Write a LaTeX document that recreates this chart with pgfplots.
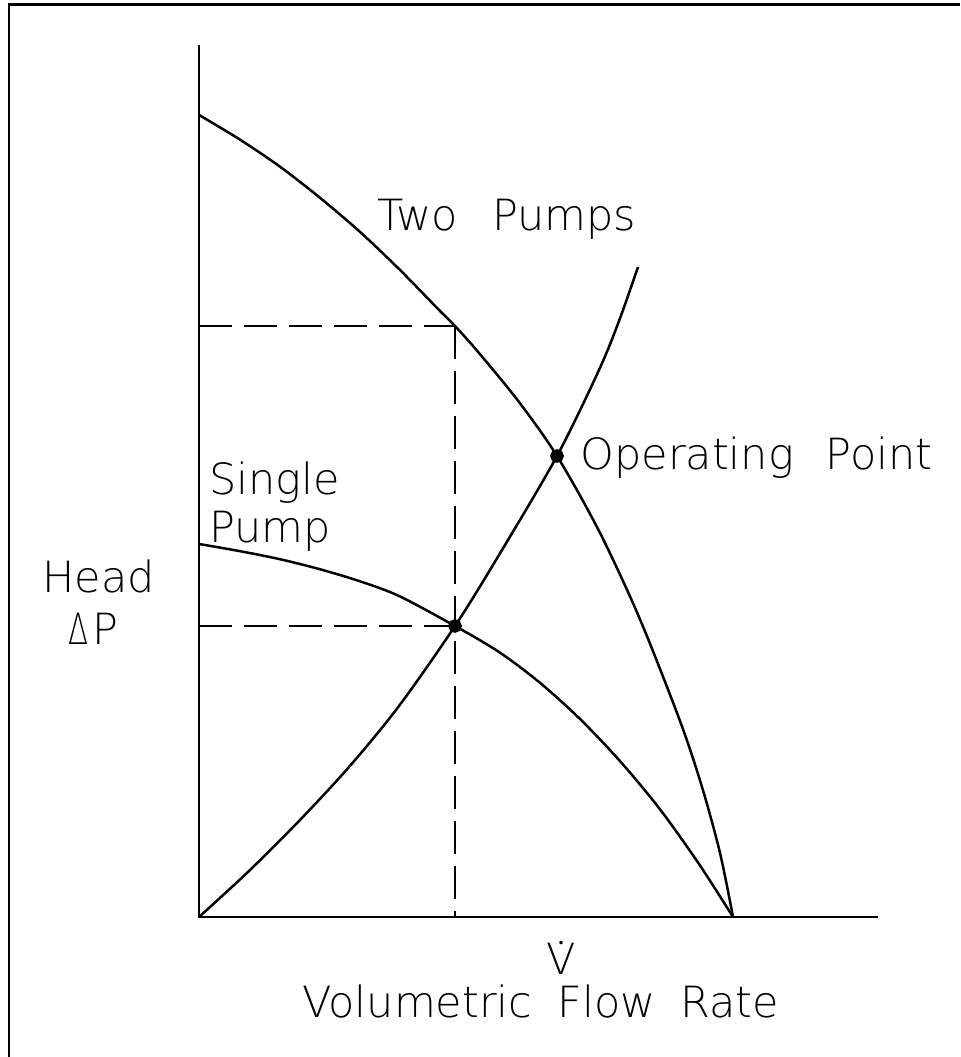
\documentclass[border=0pt]{standalone}
\usepackage{pgfplots}
\pgfplotsset{compat=1.18}
\usepackage{fontspec}
\IfFontExistsTF{DejaVu Sans ExtraLight}{%
  \newfontfamily\lbl{DejaVu Sans ExtraLight}}{%
  \newfontfamily\lbl{DejaVu Sans}}
\newfontfamily\dv{DejaVu Sans}
\newcommand{\lab}{\lbl\fontsize{21.5}{24}\selectfont}
\begin{document}
\begin{tikzpicture}
\begin{axis}[
  width=480pt, height=528.5pt, scale only axis,
  xmin=0, xmax=960, ymin=0, ymax=1057,
  axis line style={draw=none}, ticks=none, clip=false,
  every axis plot/.append style={line width=1.25pt, black},
]
% frame (top and left only)
\addplot[line width=1.2pt] coordinates {(9,0) (9,1052.5) (960,1052.5)};
% axes
\addplot[line width=1.3pt] coordinates {(199,1012) (199,140) (878,140)};
% dashed guides
\addplot[line width=1.2pt, dash pattern=on 16.5pt off 6pt] coordinates {(199,731) (455,731)};
\addplot[line width=1.2pt, dash pattern=on 16.5pt off 6pt] coordinates {(455,731) (455,140)};
\addplot[line width=1.2pt, dash pattern=on 16.5pt off 6pt] coordinates {(199,431) (455,431)};
% two pumps
\addplot[smooth] coordinates {(199,942) (239,918) (279,891) (319,860) (359,826) (399,788) (439,747) (455,731) (479,704) (519,655) (557,601) (599,526) (639,440) (680,336) (702,270) (720,204) (733,140)};
% single pump
\addplot[smooth] coordinates {(199,513) (239,506) (279,498) (319,488) (359,476) (399,461) (455,431) (499,405) (539,375) (579,339) (619,297) (659,249) (699,193) (733,140)};
% system curve
\addplot[smooth] coordinates {(199,140) (249,186) (299,236) (349,290) (399,351) (455,431) (499,502) (557,601) (599,687) (619,736) (638,790)};
% operating points
\addplot[only marks, mark=*, mark size=2.8pt] coordinates {(455,431) (557,601)};
% labels
\node[anchor=base west, inner sep=0] at (axis cs:377,826) {\lab Two\hspace{17pt}Pumps};
\node[anchor=base west, inner sep=0] at (axis cs:580,587) {\lab Operating\hspace{16pt}Point};
\node[anchor=base west, inner sep=0] at (axis cs:209,562) {\lab Single};
\node[anchor=base west, inner sep=0] at (axis cs:209,514) {\lab Pump};
\node[anchor=base west, inner sep=0] at (axis cs:42,464) {\lab Head};
\node[anchor=base west, inner sep=0] at (axis cs:68,412) {\lab\scalebox{0.68}[1]{Δ}\kern2pt P};
\node[anchor=base west, inner sep=0] at (axis cs:546,82) {\lab\ooalign{V\cr\hidewidth\raisebox{13.5pt}{\dv\fontsize{6}{6}\selectfont •}\hidewidth\cr}};
\node[anchor=base west, inner sep=0] at (axis cs:302,40) {\lab Volumetric\hspace{12.5pt}Flow\hspace{12.5pt}Rate};
\end{axis}
\pgfresetboundingbox
\path[use as bounding box] (current axis.south west) rectangle (current axis.north east);
\end{tikzpicture}
\end{document}
